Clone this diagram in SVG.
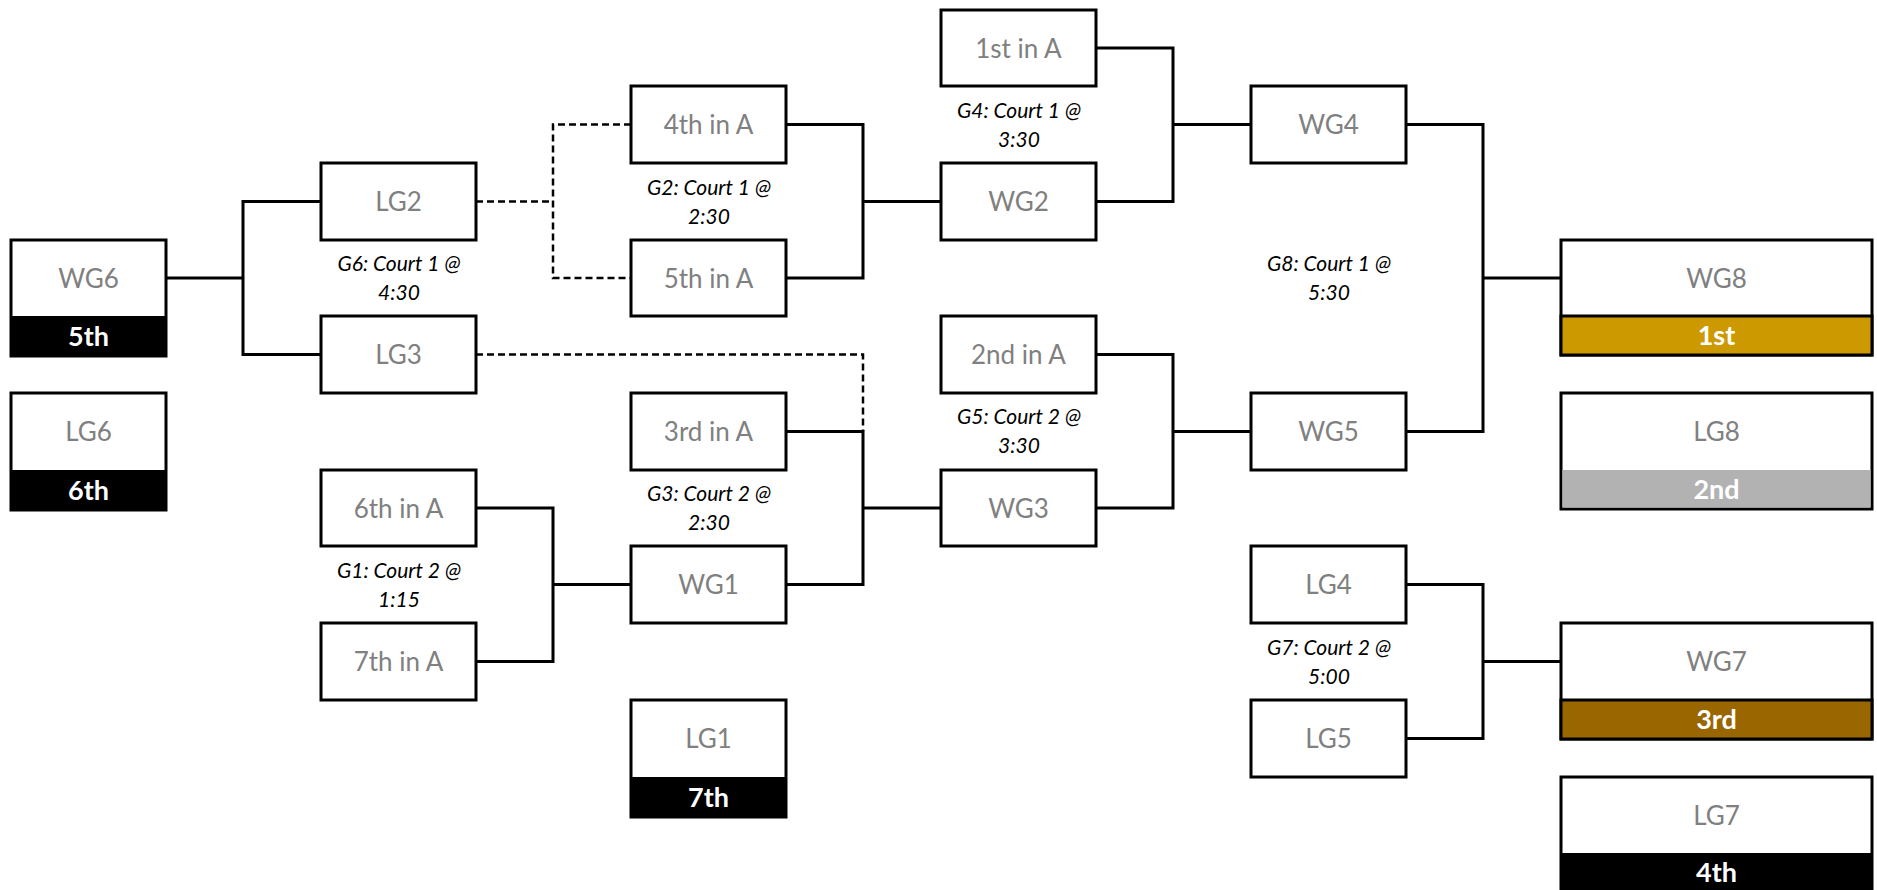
<svg xmlns="http://www.w3.org/2000/svg" width="1877" height="890" viewBox="0 0 1877 890">
<style>
.box{fill:#fff;stroke:#000;stroke-width:3}
.lbl{font-family:Lato,"Liberation Sans",sans-serif;font-size:26px;fill:#808080;text-anchor:middle}
.rank{font-family:Lato,"Liberation Sans",sans-serif;font-size:27px;font-weight:bold;fill:#fff;text-anchor:middle}
.game{font-family:Lato,"Liberation Sans",sans-serif;font-size:21px;font-style:italic;fill:#000;text-anchor:middle}
.con{fill:none;stroke:#000;stroke-width:3}
.dash{fill:none;stroke:#000;stroke-width:2.5;stroke-dasharray:7 4}
</style>
<rect width="1877" height="890" fill="#fff"/>
<g id="connectors">
<path class="con" d="M321,201.5 H243 V354.5 H321 M166,278 H243"/>
<path class="con" d="M476,508 H553 V661.5 H476 M553,584.5 H631"/>
<path class="con" d="M786,124.5 H863 V278 H786 M863,201.5 H941"/>
<path class="dash" d="M476,201.5 H553 M631,124.5 H553 V278 H631"/>
<path class="con" d="M786,431.5 H863 V584.5 H786 M863,508 H941"/>
<path class="dash" d="M476,354.5 H863 V431.5"/>
<path class="con" d="M1096,48 H1173 V201.5 H1096 M1173,124.5 H1251"/>
<path class="con" d="M1096,354.5 H1173 V508 H1096 M1173,431.5 H1251"/>
<path class="con" d="M1406,584.5 H1483 V738.5 H1406 M1483,661.5 H1561"/>
<path class="con" d="M1406,124.5 H1483 V431.5 H1406 M1483,278 H1561"/>
</g>
<g id="game-labels">
<text class="game" x="399" y="271">G6: Court 1 @</text><text class="game" x="399" y="300">4:30</text>
<text class="game" x="399" y="577.5">G1: Court 2 @</text><text class="game" x="399" y="606.5">1:15</text>
<text class="game" x="709" y="194.5">G2: Court 1 @</text><text class="game" x="709" y="223.5">2:30</text>
<text class="game" x="709" y="501">G3: Court 2 @</text><text class="game" x="709" y="530">2:30</text>
<text class="game" x="1019" y="117.5">G4: Court 1 @</text><text class="game" x="1019" y="146.5">3:30</text>
<text class="game" x="1019" y="424">G5: Court 2 @</text><text class="game" x="1019" y="453">3:30</text>
<text class="game" x="1329" y="271">G8: Court 1 @</text><text class="game" x="1329" y="300">5:30</text>
<text class="game" x="1329" y="654.5">G7: Court 2 @</text><text class="game" x="1329" y="683.5">5:00</text>
</g>
<g id="WG6"><rect class="box" x="11" y="240" width="155" height="116"/><rect x="11" y="316" width="155" height="40" fill="#000"/><text class="lbl" x="88.5" y="287.5">WG6</text><text class="rank" x="88.5" y="345.5">5th</text></g>
<g id="LG6"><rect class="box" x="11" y="393" width="155" height="117"/><rect x="11" y="470" width="155" height="40" fill="#000"/><text class="lbl" x="88.5" y="441">LG6</text><text class="rank" x="88.5" y="499.5">6th</text></g>
<g id="LG2"><rect class="box" x="321" y="163" width="155" height="77"/><text class="lbl" x="398.5" y="211">LG2</text></g>
<g id="LG3"><rect class="box" x="321" y="316" width="155" height="77"/><text class="lbl" x="398.5" y="364">LG3</text></g>
<g id="p6thA"><rect class="box" x="321" y="470" width="155" height="76"/><text class="lbl" x="398.5" y="517.5">6th in A</text></g>
<g id="p7thA"><rect class="box" x="321" y="623" width="155" height="77"/><text class="lbl" x="398.5" y="671">7th in A</text></g>
<g id="p4thA"><rect class="box" x="631" y="86" width="155" height="77"/><text class="lbl" x="708.5" y="134">4th in A</text></g>
<g id="p5thA"><rect class="box" x="631" y="240" width="155" height="76"/><text class="lbl" x="708.5" y="287.5">5th in A</text></g>
<g id="p3rdA"><rect class="box" x="631" y="393" width="155" height="77"/><text class="lbl" x="708.5" y="441">3rd in A</text></g>
<g id="WG1"><rect class="box" x="631" y="546" width="155" height="77"/><text class="lbl" x="708.5" y="594">WG1</text></g>
<g id="LG1"><rect class="box" x="631" y="700" width="155" height="117"/><rect x="631" y="777" width="155" height="40" fill="#000"/><text class="lbl" x="708.5" y="748">LG1</text><text class="rank" x="708.5" y="806.5">7th</text></g>
<g id="p1stA"><rect class="box" x="941" y="10" width="155" height="76"/><text class="lbl" x="1018.5" y="57.5">1st in A</text></g>
<g id="WG2"><rect class="box" x="941" y="163" width="155" height="77"/><text class="lbl" x="1018.5" y="211">WG2</text></g>
<g id="p2ndA"><rect class="box" x="941" y="316" width="155" height="77"/><text class="lbl" x="1018.5" y="364">2nd in A</text></g>
<g id="WG3"><rect class="box" x="941" y="470" width="155" height="76"/><text class="lbl" x="1018.5" y="517.5">WG3</text></g>
<g id="WG4"><rect class="box" x="1251" y="86" width="155" height="77"/><text class="lbl" x="1328.5" y="134">WG4</text></g>
<g id="WG5"><rect class="box" x="1251" y="393" width="155" height="77"/><text class="lbl" x="1328.5" y="441">WG5</text></g>
<g id="LG4"><rect class="box" x="1251" y="546" width="155" height="77"/><text class="lbl" x="1328.5" y="594">LG4</text></g>
<g id="LG5"><rect class="box" x="1251" y="700" width="155" height="77"/><text class="lbl" x="1328.5" y="748">LG5</text></g>
<g id="WG8"><rect class="box" x="1561" y="240" width="311" height="115"/><rect x="1561" y="316" width="311" height="39" fill="#CC9900" stroke="#000" stroke-width="3"/><text class="lbl" x="1716.5" y="287.5">WG8</text><text class="rank" x="1716.5" y="345">1st</text></g>
<g id="LG8"><rect class="box" x="1561" y="393" width="311" height="116"/><rect x="1562.5" y="470" width="308" height="37.5" fill="#B2B2B2"/><text class="lbl" x="1716.5" y="441">LG8</text><text class="rank" x="1716.5" y="499">2nd</text></g>
<g id="WG7"><rect class="box" x="1561" y="623" width="311" height="116"/><rect x="1561" y="700" width="311" height="39" fill="#996600" stroke="#000" stroke-width="3"/><text class="lbl" x="1716.5" y="671">WG7</text><text class="rank" x="1716.5" y="729">3rd</text></g>
<g id="LG7"><rect class="box" x="1561" y="777" width="311" height="116"/><rect x="1561" y="853" width="311" height="40" fill="#000"/><text class="lbl" x="1716.5" y="824.5">LG7</text><text class="rank" x="1716.5" y="882">4th</text></g>
</svg>
